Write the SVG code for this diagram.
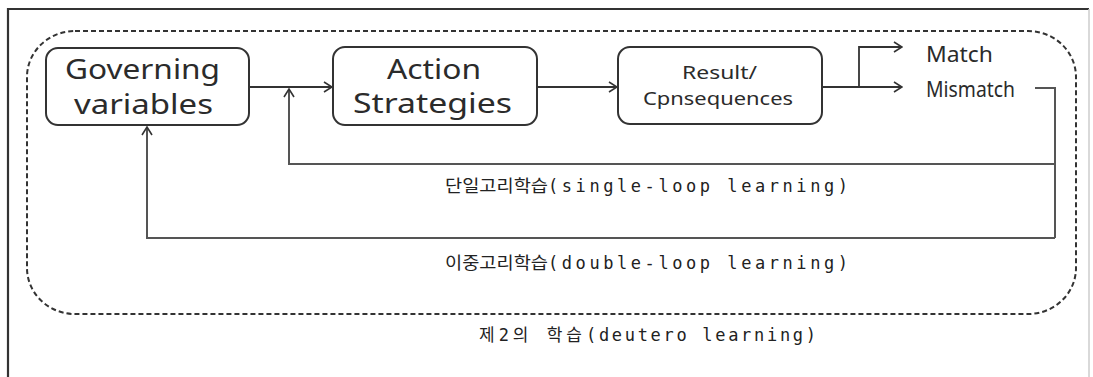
<svg xmlns="http://www.w3.org/2000/svg" width="1093" height="377" viewBox="0 0 1093 377">
<style>
.box{fill:#fff;stroke:#333;stroke-width:2}
.bt{font-family:"Noto Sans","Open Sans",sans-serif;fill:#2b2b2b}
.conn{fill:none;stroke:#333;stroke-width:1.8}
.loop{fill:none;stroke:#555;stroke-width:2}
.kt{font-family:"DejaVu Sans Mono","Noto Sans CJK KR",monospace;font-size:17px;fill:#222}
</style>
<defs>
<marker id="arr" viewBox="0 0 10 12" refX="9" refY="6" markerWidth="10" markerHeight="12" markerUnits="userSpaceOnUse" orient="auto">
<path d="M1,1 L9,6 L1,11" fill="none" stroke="#333" stroke-width="1.6"/>
</marker>
</defs>
<rect width="1093" height="377" fill="#fff"/>
<g id="frame">
<path d="M8,380 V9 H1089" fill="none" stroke="#333" stroke-width="2.2"/>
<line x1="1089" y1="9" x2="1089" y2="377" stroke="#ccc" stroke-width="1.5"/>
</g>
<g id="deutero-boundary">
<rect x="27" y="31" width="1049" height="283" rx="48" ry="46" fill="none" stroke="#333" stroke-width="2" stroke-dasharray="5 3"/>
</g>
<g id="connectors">
<line class="conn" x1="249" y1="87" x2="332" y2="87" marker-end="url(#arr)"/>
<line class="conn" x1="537" y1="87" x2="617" y2="87" marker-end="url(#arr)"/>
<polyline class="conn" points="822,87 859,87 859,47 902,47" marker-end="url(#arr)"/>
<line class="conn" x1="859" y1="87" x2="902" y2="87" marker-end="url(#arr)"/>
<polyline class="loop" points="1035,88 1055,88 1055,238"/>
<polyline class="loop" points="1055,164 289,164 289,89" marker-end="url(#arr)"/>
<polyline class="loop" points="1055,238 147,238 147,127" marker-end="url(#arr)"/>
</g>
<g id="governing-variables">
<rect class="box" x="46" y="48" width="203" height="77" rx="12"/>
<text class="bt" x="65" y="79" font-size="27" textLength="155" lengthAdjust="spacingAndGlyphs">Governing</text>
<text class="bt" x="74" y="114" font-size="27" textLength="139" lengthAdjust="spacingAndGlyphs">variables</text>
</g>
<g id="action-strategies">
<rect class="box" x="333" y="47" width="204" height="78" rx="12"/>
<text class="bt" x="387" y="79" font-size="27" textLength="94" lengthAdjust="spacingAndGlyphs">Action</text>
<text class="bt" x="353" y="113" font-size="27" textLength="159" lengthAdjust="spacingAndGlyphs">Strategies</text>
</g>
<g id="result-consequences">
<rect class="box" x="618" y="47" width="204" height="77" rx="12"/>
<text class="bt" x="682" y="79" font-size="18" textLength="75" lengthAdjust="spacingAndGlyphs">Result/</text>
<text class="bt" x="643" y="105" font-size="18" textLength="150" lengthAdjust="spacingAndGlyphs">Cpnsequences</text>
</g>
<g id="match">
<text class="bt" x="926" y="62" font-size="22" textLength="67" lengthAdjust="spacingAndGlyphs">Match</text>
</g>
<g id="mismatch">
<text class="bt" x="926" y="97" font-size="22" textLength="89" lengthAdjust="spacingAndGlyphs">Mismatch</text>
</g>
<g id="labels">
<text class="kt" x="445" y="192"><tspan textLength="103" lengthAdjust="spacingAndGlyphs">단일고리학습</tspan><tspan textLength="300">(single-loop learning)</tspan></text>
<text class="kt" x="445" y="269"><tspan textLength="103" lengthAdjust="spacingAndGlyphs">이중고리학습</tspan><tspan textLength="300">(double-loop learning)</tspan></text>
<text class="kt" x="479" y="341"><tspan textLength="103">제2의 학습</tspan><tspan textLength="230">(deutero learning)</tspan></text>
</g>
</svg>
